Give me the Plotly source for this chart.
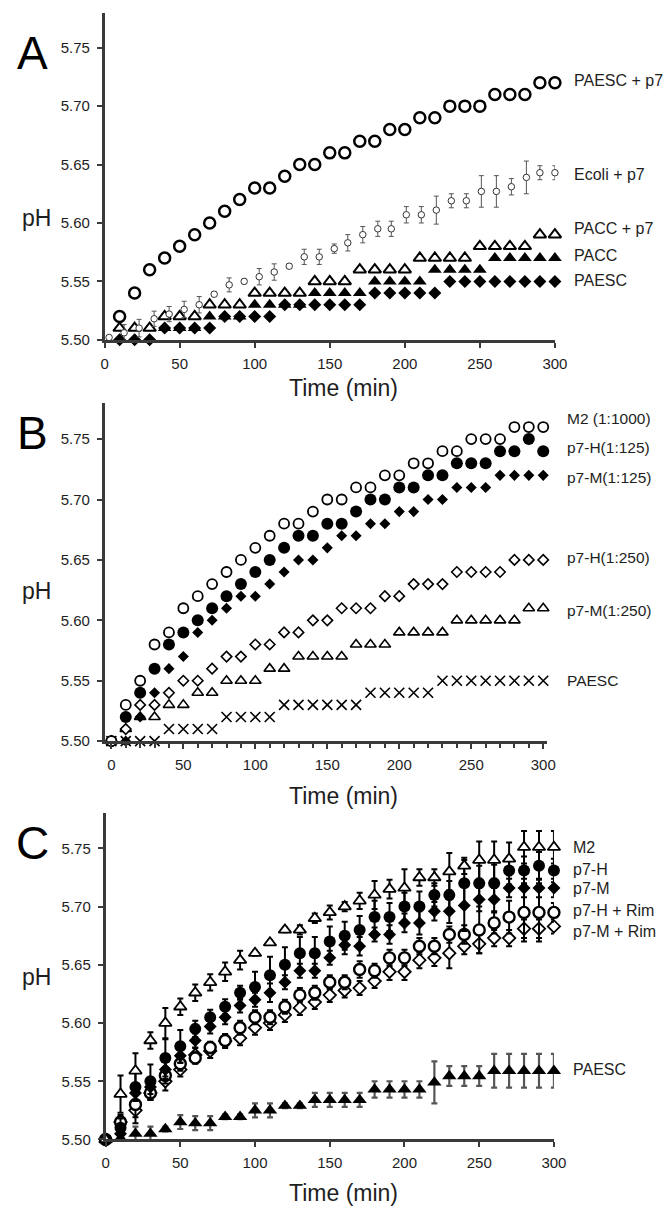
import plotly.graph_objects as go

W, H = 672, 1212

# ---------------- Panel A data ----------------
t_A = [10, 20, 30, 40, 50, 60, 70, 80, 90, 100, 110, 120, 130, 140, 150,
       160, 170, 180, 190, 200, 210, 220, 230, 240, 250, 260, 270, 280, 290, 300]
paesc_p7_A = [5.52, 5.54, 5.56, 5.57, 5.58, 5.59, 5.60, 5.61, 5.62, 5.63, 5.63, 5.64, 5.65, 5.65, 5.66,
              5.66, 5.67, 5.67, 5.68, 5.68, 5.69, 5.69, 5.70, 5.70, 5.70, 5.71, 5.71, 5.71, 5.72, 5.72]
pacc_p7_A = [5.51, 5.51, 5.51, 5.52, 5.52, 5.52, 5.53, 5.53, 5.53, 5.54, 5.54, 5.54, 5.54, 5.55, 5.55,
             5.55, 5.56, 5.56, 5.56, 5.56, 5.57, 5.57, 5.57, 5.57, 5.58, 5.58, 5.58, 5.58, 5.59, 5.59]
pacc_A = [5.50, 5.50, 5.50, 5.51, 5.51, 5.51, 5.52, 5.52, 5.52, 5.53, 5.53, 5.53, 5.53, 5.54, 5.54,
          5.54, 5.54, 5.55, 5.55, 5.55, 5.55, 5.56, 5.56, 5.56, 5.56, 5.57, 5.57, 5.57, 5.57, 5.57]
paesc_A = [5.50, 5.50, 5.50, 5.51, 5.51, 5.51, 5.51, 5.52, 5.52, 5.52, 5.52, 5.53, 5.53, 5.53, 5.53,
           5.53, 5.53, 5.54, 5.54, 5.54, 5.54, 5.54, 5.55, 5.55, 5.55, 5.55, 5.55, 5.55, 5.55, 5.55]
ecoli_t = [3, 13, 23, 33, 43, 53, 63, 73, 83, 93, 103, 113, 123, 133, 143, 153,
           162, 172, 182, 191, 201, 211, 221, 231, 241, 251, 261, 271, 281, 290, 300]
ecoli_A = [5.502, 5.506, 5.510, 5.518, 5.522, 5.526, 5.530, 5.539, 5.547, 5.550, 5.554, 5.558, 5.563,
           5.571, 5.571, 5.578, 5.583, 5.590, 5.595, 5.595, 5.607, 5.607, 5.611, 5.619, 5.619,
           5.627, 5.627, 5.631, 5.639, 5.643, 5.643]
ecoli_err = [0.001, 0.007, 0.0075, 0.0065, 0.0065, 0.007, 0.007, 0.002, 0.006, 0.002, 0.007, 0.007,
             0.002, 0.0065, 0.0065, 0.004, 0.007, 0.007, 0.0065, 0.0065, 0.007, 0.007, 0.012,
             0.006, 0.006, 0.0135, 0.0135, 0.007, 0.014, 0.006, 0.006]

# ---------------- Panel B data ----------------
t_B = [0, 10, 20, 30, 40, 50, 60, 70, 80, 90, 100, 110, 120, 130, 140, 150,
       160, 170, 180, 190, 200, 210, 220, 230, 240, 250, 260, 270, 280, 290, 300]
m2_B = [5.50, 5.53, 5.55, 5.58, 5.59, 5.61, 5.62, 5.63, 5.64, 5.65, 5.66, 5.67, 5.68, 5.68, 5.69, 5.70,
        5.70, 5.71, 5.71, 5.72, 5.72, 5.73, 5.73, 5.74, 5.74, 5.75, 5.75, 5.75, 5.76, 5.76, 5.76]
p7h125_B = [5.50, 5.52, 5.54, 5.56, 5.58, 5.59, 5.60, 5.61, 5.62, 5.63, 5.64, 5.65, 5.66, 5.67, 5.67, 5.68,
            5.68, 5.69, 5.70, 5.70, 5.71, 5.71, 5.72, 5.72, 5.73, 5.73, 5.73, 5.74, 5.74, 5.75, 5.74]
p7m125_B = [5.50, 5.50, 5.52, 5.54, 5.56, 5.57, 5.59, 5.60, 5.61, 5.62, 5.62, 5.63, 5.64, 5.65, 5.65, 5.66,
            5.67, 5.67, 5.68, 5.68, 5.69, 5.69, 5.70, 5.70, 5.71, 5.71, 5.71, 5.72, 5.72, 5.72, 5.72]
p7h250_B = [5.50, 5.51, 5.53, 5.53, 5.54, 5.55, 5.55, 5.56, 5.57, 5.57, 5.58, 5.58, 5.59, 5.59, 5.60, 5.60,
            5.61, 5.61, 5.61, 5.62, 5.62, 5.63, 5.63, 5.63, 5.64, 5.64, 5.64, 5.64, 5.65, 5.65, 5.65]
p7m250_B = [5.50, 5.51, 5.52, 5.52, 5.53, 5.53, 5.54, 5.54, 5.55, 5.55, 5.55, 5.56, 5.56, 5.57, 5.57, 5.57,
            5.57, 5.58, 5.58, 5.58, 5.59, 5.59, 5.59, 5.59, 5.60, 5.60, 5.60, 5.60, 5.60, 5.61, 5.61]
paesc_B = [5.50, 5.50, 5.50, 5.50, 5.51, 5.51, 5.51, 5.51, 5.52, 5.52, 5.52, 5.52, 5.53, 5.53, 5.53, 5.53,
           5.53, 5.53, 5.54, 5.54, 5.54, 5.54, 5.54, 5.55, 5.55, 5.55, 5.55, 5.55, 5.55, 5.55, 5.55]

# ---------------- Panel C data ----------------
t_C = t_B
m2_C = [5.500, 5.539, 5.559, 5.585, 5.600, 5.614, 5.626, 5.635, 5.644, 5.654, 5.660, 5.669, 5.680, 5.680,
        5.690, 5.695, 5.700, 5.705, 5.710, 5.715, 5.716, 5.725, 5.725, 5.730, 5.735, 5.740, 5.740,
        5.741, 5.751, 5.751, 5.751]
m2_err = [0, 0.016, 0.015, 0.007, 0.013, 0.007, 0.007, 0.007, 0.008, 0.008, 0.002, 0.002, 0.002, 0.004,
          0.004, 0.006, 0.004, 0.007, 0.012, 0.008, 0.016, 0.007, 0.007, 0.016, 0.007, 0.016, 0.016,
          0.014, 0.014, 0.014, 0.014]
p7h_C = [5.500, 5.510, 5.545, 5.550, 5.570, 5.580, 5.595, 5.605, 5.614, 5.626, 5.631, 5.641, 5.650, 5.660,
         5.660, 5.670, 5.675, 5.680, 5.691, 5.691, 5.700, 5.700, 5.710, 5.710, 5.720, 5.720, 5.720,
         5.731, 5.731, 5.735, 5.731]
p7h_err = [0, 0.008, 0.012, 0.0145, 0.016, 0.014, 0.007, 0.0065, 0.0065, 0.006, 0.013, 0.016, 0.015, 0.014,
           0.014, 0.013, 0.012, 0.012, 0.014, 0.012, 0.012, 0.013, 0.010, 0.012, 0.020, 0.015, 0.016,
           0.012, 0.012, 0.012, 0.010]
p7m_C = [5.500, 5.505, 5.540, 5.545, 5.560, 5.572, 5.585, 5.597, 5.605, 5.615, 5.620, 5.626, 5.635, 5.645,
         5.645, 5.656, 5.667, 5.666, 5.676, 5.676, 5.686, 5.686, 5.696, 5.696, 5.701, 5.706, 5.706,
         5.716, 5.716, 5.716, 5.716]
p7m_err = [0, 0.005, 0.006, 0.006, 0.008, 0.006, 0.006, 0.006, 0.006, 0.006, 0.006, 0.008, 0.006, 0.006,
           0.006, 0.006, 0.008, 0.008, 0.006, 0.008, 0.008, 0.010, 0.008, 0.010, 0.022, 0.010, 0.010,
           0.008, 0.008, 0.008, 0.008]
p7hrim_C = [5.500, 5.515, 5.530, 5.540, 5.555, 5.565, 5.570, 5.579, 5.585, 5.596, 5.605, 5.605, 5.614,
            5.624, 5.626, 5.635, 5.635, 5.646, 5.645, 5.656, 5.656, 5.666, 5.666, 5.676, 5.676, 5.680,
            5.686, 5.691, 5.695, 5.695, 5.695]
p7hrim_err = [0, 0.006, 0.016, 0.006, 0.007, 0.006, 0.005, 0.005, 0.005, 0.006, 0.006, 0.006, 0.006,
              0.006, 0.006, 0.006, 0.006, 0.007, 0.006, 0.007, 0.007, 0.007, 0.007, 0.007, 0.008, 0.020,
              0.009, 0.014, 0.025, 0.025, 0.008]
p7mrim_C = [5.500, 5.515, 5.525, 5.540, 5.550, 5.560, 5.5725, 5.576, 5.5845, 5.587, 5.596, 5.600, 5.607,
            5.613, 5.618, 5.624, 5.628, 5.630, 5.636, 5.644, 5.644, 5.654, 5.656, 5.660, 5.666, 5.668,
            5.673, 5.673, 5.681, 5.681, 5.683]
p7mrim_err = [0, 0.004, 0.006, 0.006, 0.008, 0.006, 0.006, 0.006, 0.006, 0.006, 0.006, 0.006, 0.006,
              0.006, 0.006, 0.006, 0.006, 0.006, 0.006, 0.007, 0.007, 0.007, 0.007, 0.013, 0.007, 0.008,
              0.007, 0.007, 0.008, 0.008, 0.006]
paesc_C = [5.500, 5.501, 5.505, 5.505, 5.509, 5.515, 5.514, 5.514, 5.5195, 5.5195, 5.525, 5.525, 5.529,
           5.529, 5.534, 5.534, 5.534, 5.534, 5.543, 5.543, 5.543, 5.543, 5.549, 5.5545, 5.5545, 5.5545,
           5.559, 5.559, 5.559, 5.559, 5.559]
paesc_err = [0, 0.004, 0.006, 0.006, 0.002, 0.006, 0.006, 0.006, 0.002, 0.002, 0.006, 0.006, 0.002,
             0.002, 0.006, 0.006, 0.006, 0.006, 0.007, 0.007, 0.007, 0.007, 0.018, 0.0085, 0.0085,
             0.0085, 0.0145, 0.0145, 0.0145, 0.0145, 0.0145]

y_ticks = [5.50, 5.55, 5.60, 5.65, 5.70, 5.75]
y_tick_text = ["5.50", "5.55", "5.60", "5.65", "5.70", "5.75"]
x_ticks = [0, 50, 100, 150, 200, 250, 300]

labels_A = ["PAESC + p7", "Ecoli + p7", "PACC + p7", "PACC", "PAESC"]
labels_B = ["M2 (1:1000)", "p7-H(1:125)", "p7-M(1:125)", "p7-H(1:250)", "p7-M(1:250)", "PAESC"]
labels_C = ["M2", "p7-H", "p7-M", "p7-H + Rim", "p7-M + Rim", "PAESC"]

FONT = "Liberation Sans, Arial, Helvetica, sans-serif"
AX = "#3a3a3a"
TXT = "#1e1e1e"


def px(x):
    return x / W


def py(y):
    return 1 - y / H


fig = go.Figure()


def mk(symbol, size, fill, lw=0, lc="black"):
    return dict(symbol=symbol, size=size, color=fill, line=dict(color=lc, width=lw))


def add(x, y, marker, axis, err=None, ecol="black", ethick=1.6, ewidth=3):
    kw = {}
    if err is not None:
        kw["error_y"] = dict(type="data", array=err, visible=True, color=ecol,
                             thickness=ethick, width=ewidth)
    fig.add_trace(go.Scatter(x=x, y=y, mode="markers", marker=marker,
                             xaxis="x" + axis, yaxis="y" + axis, cliponaxis=False,
                             showlegend=False, hoverinfo="x+y", **kw))


# Panel A traces
add(t_A, paesc_A, mk("diamond", 10, "black"), "")
add(t_A, pacc_A, mk("triangle-up", 12, "black"), "")
add(t_A, pacc_p7_A, mk("triangle-up", 11, "white", 2, "black"), "")
add(ecoli_t, ecoli_A, mk("circle", 6.5, "white", 1, "#333333"), "", err=ecoli_err,
    ecol="#555555", ethick=1, ewidth=2.5)
add(t_A, paesc_p7_A, mk("circle", 11, "white", 2.5, "black"), "")

# Panel B traces
add(t_B, paesc_B, mk("x-thin", 10, "black", 1.6, "black"), "2")
add(t_B, p7m250_B, mk("triangle-up", 10, "white", 1.6, "black"), "2")
add(t_B, p7h250_B, mk("diamond", 8, "white", 1.6, "black"), "2")
add(t_B, p7m125_B, mk("diamond", 8.5, "black"), "2")
add(t_B, p7h125_B, mk("circle", 12, "black"), "2")
add(t_B, m2_B, mk("circle", 10, "white", 1.8, "black"), "2")

# Panel C traces
add(t_C, paesc_C, mk("triangle-up", 12.5, "black"), "3", err=paesc_err, ecol="#555555",
    ethick=2.2, ewidth=3)
add(t_C, p7mrim_C, mk("diamond", 9.5, "white", 1.8, "black"), "3", err=p7mrim_err, ethick=2, ewidth=3)
add(t_C, p7hrim_C, mk("circle", 11, "white", 2.4, "black"), "3", err=p7hrim_err, ethick=2, ewidth=3)
add(t_C, p7m_C, mk("diamond", 10, "black"), "3", err=p7m_err, ethick=2, ewidth=3)
add(t_C, p7h_C, mk("circle", 12, "black"), "3", err=p7h_err, ethick=2, ewidth=3)
add(t_C, m2_C, mk("triangle-up", 11, "white", 1.8, "black"), "3", err=m2_err, ethick=2, ewidth=3)

tickfont = dict(family=FONT, size=15, color=TXT)


def yax(dom, anchor):
    return dict(domain=dom, range=[5.50, 5.78], anchor=anchor, tickvals=y_ticks, ticktext=y_tick_text,
                showline=True, linecolor=AX, linewidth=2.5, ticks="outside", ticklen=5,
                tickwidth=2, tickcolor=AX, showgrid=False, zeroline=False, tickfont=tickfont,
                ticklabelstandoff=4)


def xax(dom, rng, anchor, minor=False, ticks="outside"):
    d = dict(domain=dom, range=rng, anchor=anchor, tickvals=x_ticks, showline=True, linecolor=AX,
             linewidth=2.5, ticks=ticks, ticklen=5, tickwidth=2, tickcolor=AX, showgrid=False,
             zeroline=False, tickfont=tickfont, ticklabelstandoff=3)
    if minor:
        d["minor"] = dict(tickvals=[v for v in range(0, 301, 10)], ticks="outside", ticklen=4,
                          tickwidth=1.5, tickcolor=AX)
    return d


fig.update_layout(
    width=W, height=H, margin=dict(l=0, r=0, t=0, b=0),
    paper_bgcolor="white", plot_bgcolor="white",
    xaxis=xax([px(95), px(557)], [0, 300], "y"),
    yaxis=yax([py(334), py(4.7)], "x"),
    xaxis2=xax([px(95), px(549)], [-4.7, 302.7], "y2", minor=True),
    yaxis2=yax([py(738), py(397.5)], "x2"),
    xaxis3=xax([px(96), px(556)], [0, 300], "y3", minor=False, ticks="outside"),
    yaxis3=yax([py(1139), py(810.8)], "x3"),
)

ann = []


def text(x, y, s, size, anchor="left", color=TXT):
    ann.append(dict(x=px(x), y=py(y), xref="paper", yref="paper", text=s, showarrow=False,
                    xanchor=anchor, yanchor="middle", font=dict(family=FONT, size=size, color=color)))


# panel letters
text(21, 45, "A", 46, "center", "black")
text(21, 428, "B", 46, "center", "black")
text(21, 841, "C", 46, "center", "black")
# y titles
for yy in (211, 587, 975):
    text(25, yy, "pH", 23, "center")
# x titles
for yy in (383, 793, 1193):
    text(340, yy, "Time (min)", 23, "center")

# series labels
for s, yy in zip(labels_A, [73, 168, 222, 249, 274]):
    text(575, yy, s, 16)
for s, yy in zip(labels_B, [413, 442, 473, 553, 607, 677]):
    text(567, yy, s, 15.5)
for s, yy in zip(labels_C, [845, 867, 886, 908, 930, 1069]):
    text(574, yy, s, 16)

fig.update_layout(annotations=ann)
fig.write_html("out.html")
